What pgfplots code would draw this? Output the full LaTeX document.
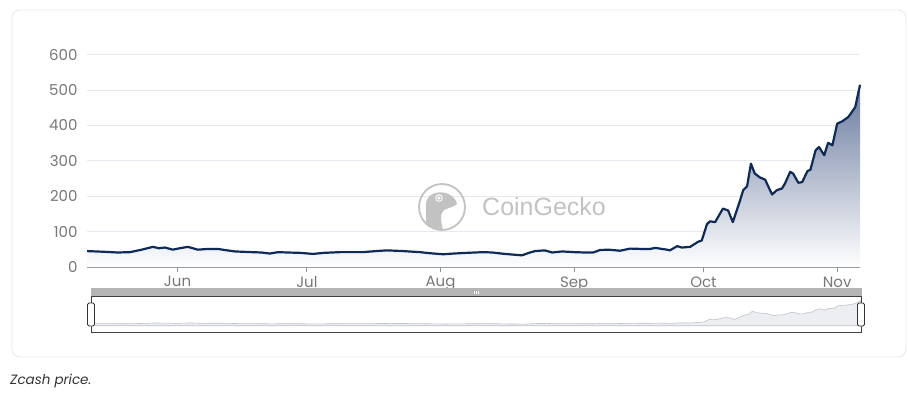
\documentclass[border=0pt]{standalone}
\usepackage{pgfplots}
\pgfplotsset{compat=1.18}
\usepackage{pgfplotstable}
\usepackage{fontspec}
\setmainfont{Poppins}
\newfontfamily\wmfont{Liberation Sans}
\definecolor{navy}{HTML}{0E2A57}
\definecolor{gridc}{HTML}{E6E9EF}
\definecolor{tickc}{HTML}{777777}
\definecolor{axisc}{HTML}{8A8F99}
\definecolor{shadetop}{HTML}{6A7A9E}
\definecolor{navfill}{HTML}{ECEEF1}
\definecolor{navline}{HTML}{BFC3CA}
\definecolor{navbar}{HTML}{B4B4B4}
\definecolor{boxc}{HTML}{E4E7EB}
\definecolor{wmc}{HTML}{C2C2C2}

\pgfplotstableread{
day price
-21 45
-17 43
-13.9 41
-11 42
-8.3 49
-5.7 57
-4.3 53
-2.9 55
-1.1 49
0.5 53
2.4 57
4.7 49
7 51
9.4 51
11.5 47
13.3 44
17.2 42
19.5 41
21.4 38
23.3 42
25.5 41
28.4 40
31.4 37
34 40
37.6 42
40 42
43 42
46 45
48.6 47
52.3 45
56.2 42
58.5 39
61.6 36
64 38
67.1 40
69 41
71 42
73 41
75.9 37
79.9 33
81.5 40
82.9 45
85.2 47
86.9 41
89.2 44
92 42
94.5 41
96.4 41
98 48
100 49
102.6 46
105 52
107.7 51
109.6 51
110.8 54
113.5 49
114.2 47
115.9 59
117 55
118.9 57
120.7 71
121.6 75
122.8 121
123.5 129
124.7 127
126.5 165
127.7 160
128.8 127
130.5 189
131.2 217
132.1 228
133 292
133.9 264
135.1 253
136.3 247
136.9 231
137.9 205
139 217
140.2 222
140.9 236
142.1 269
142.8 264
144 238
144.9 240
146.1 271
146.8 275
148 330
148.8 339
150 316
150.9 351
151.9 344
153 405
154.2 412
155.6 424
157.2 452
158.3 515
}\zec

\begin{document}
\begin{tikzpicture}[x=1pt,y=1pt]
\path[use as bounding box] (0,0) rectangle (908,392);
% outer card
\draw[boxc, line width=0.8pt, rounded corners=8pt] (12,35) rectangle (906,382);

% main chart
\begin{axis}[
  at={(87pt,125pt)}, anchor=south west,
  scale only axis, width=773pt, height=212.3pt,
  xmin=-21, xmax=158.3, ymin=0, ymax=600,
  axis x line*=bottom, axis y line*=left,
  y axis line style={draw=none},
  x axis line style={draw=axisc, line width=0.9pt},
  xtick={0,30,61,92,122,153},
  xticklabels={Jun,Jul,Aug,Sep,Oct,Nov},
  ytick={0,100,...,600},
  tick align=outside,
  xtick style={draw=axisc, line width=0.9pt},
  major tick length=5pt,
  ytick style={draw=none},
  ymajorgrids, grid style={gridc, line width=0.9pt},
  tick label style={font=\fontsize{15}{17}\selectfont, text=tickc},
  yticklabel style={anchor=east, xshift=-1pt},
  xticklabel style={anchor=north, yshift=-1pt},
  /pgf/number format/assume math mode=true,
  clip=false,
]
\addplot[draw=none, top color=shadetop, bottom color=white, shading=axis] table[x=day,y=price] {\zec} \closedcycle;
\addplot[navy, line width=2.2pt, line join=round] table[x=day,y=price] {\zec};
\end{axis}

% watermark
\begin{scope}[shift={(442,185)}]
  \begin{scope}
    \clip (0,0) circle (23);
    \fill[wmc] (-16,-26) -- (-16,4) .. controls (-14,14) and (-4,16) .. (4,14)
      .. controls (10,12) and (14,8) .. (15,3) .. controls (12,0) and (6,-1) .. (2,-3)
      .. controls (-2,-6) and (-2,-14) .. (2,-26) -- cycle;
  \end{scope}
  \draw[wmc, line width=1.8pt] (0,0) circle (23);
  \fill[white] (-3,9) circle (3.8);
  \draw[wmc, line width=1pt] (-3,9) circle (2.2);
\end{scope}
\node[anchor=west, inner sep=0pt, text=wmc, font=\wmfont\fontsize{25}{29}\selectfont] at (482,185) {CoinGecko};

% navigator
\begin{axis}[
  at={(91pt,59.3pt)}, anchor=south west,
  scale only axis, width=770pt, height=36.7pt,
  xmin=-21, xmax=158.3, ymin=-140, ymax=600,
  axis lines=none, ticks=none, clip=true,
]
\addplot[draw=navline, line width=0.6pt, fill=navfill] table[x=day,y=price] {\zec} \closedcycle;
\end{axis}
% navigator frame
\fill[navbar] (91,96) rectangle (862,103.7);
\draw[white, line width=0.5pt] (474.5,98) -- (474.5,101.5) (476.5,98) -- (476.5,101.5) (478.5,98) -- (478.5,101.5);
\draw[black!75, line width=1pt] (91,96) -- (91,59.3) -- (861,59.3) -- (861,96);
\draw[black!75, line width=1pt] (91,96) -- (861,96);
\draw[black!80, line width=0.9pt, fill=white, rounded corners=1.5pt] (87.5,66) rectangle (94.5,89);
\draw[black!80, line width=0.9pt, fill=white, rounded corners=1.5pt] (857.5,66) rectangle (864.5,89);

% caption
\node[anchor=base west, inner sep=0pt, text=black!80, font=\itshape\fontsize{13.5}{15}\selectfont] at (10,8) {Zcash price.};
\end{tikzpicture}
\end{document}
